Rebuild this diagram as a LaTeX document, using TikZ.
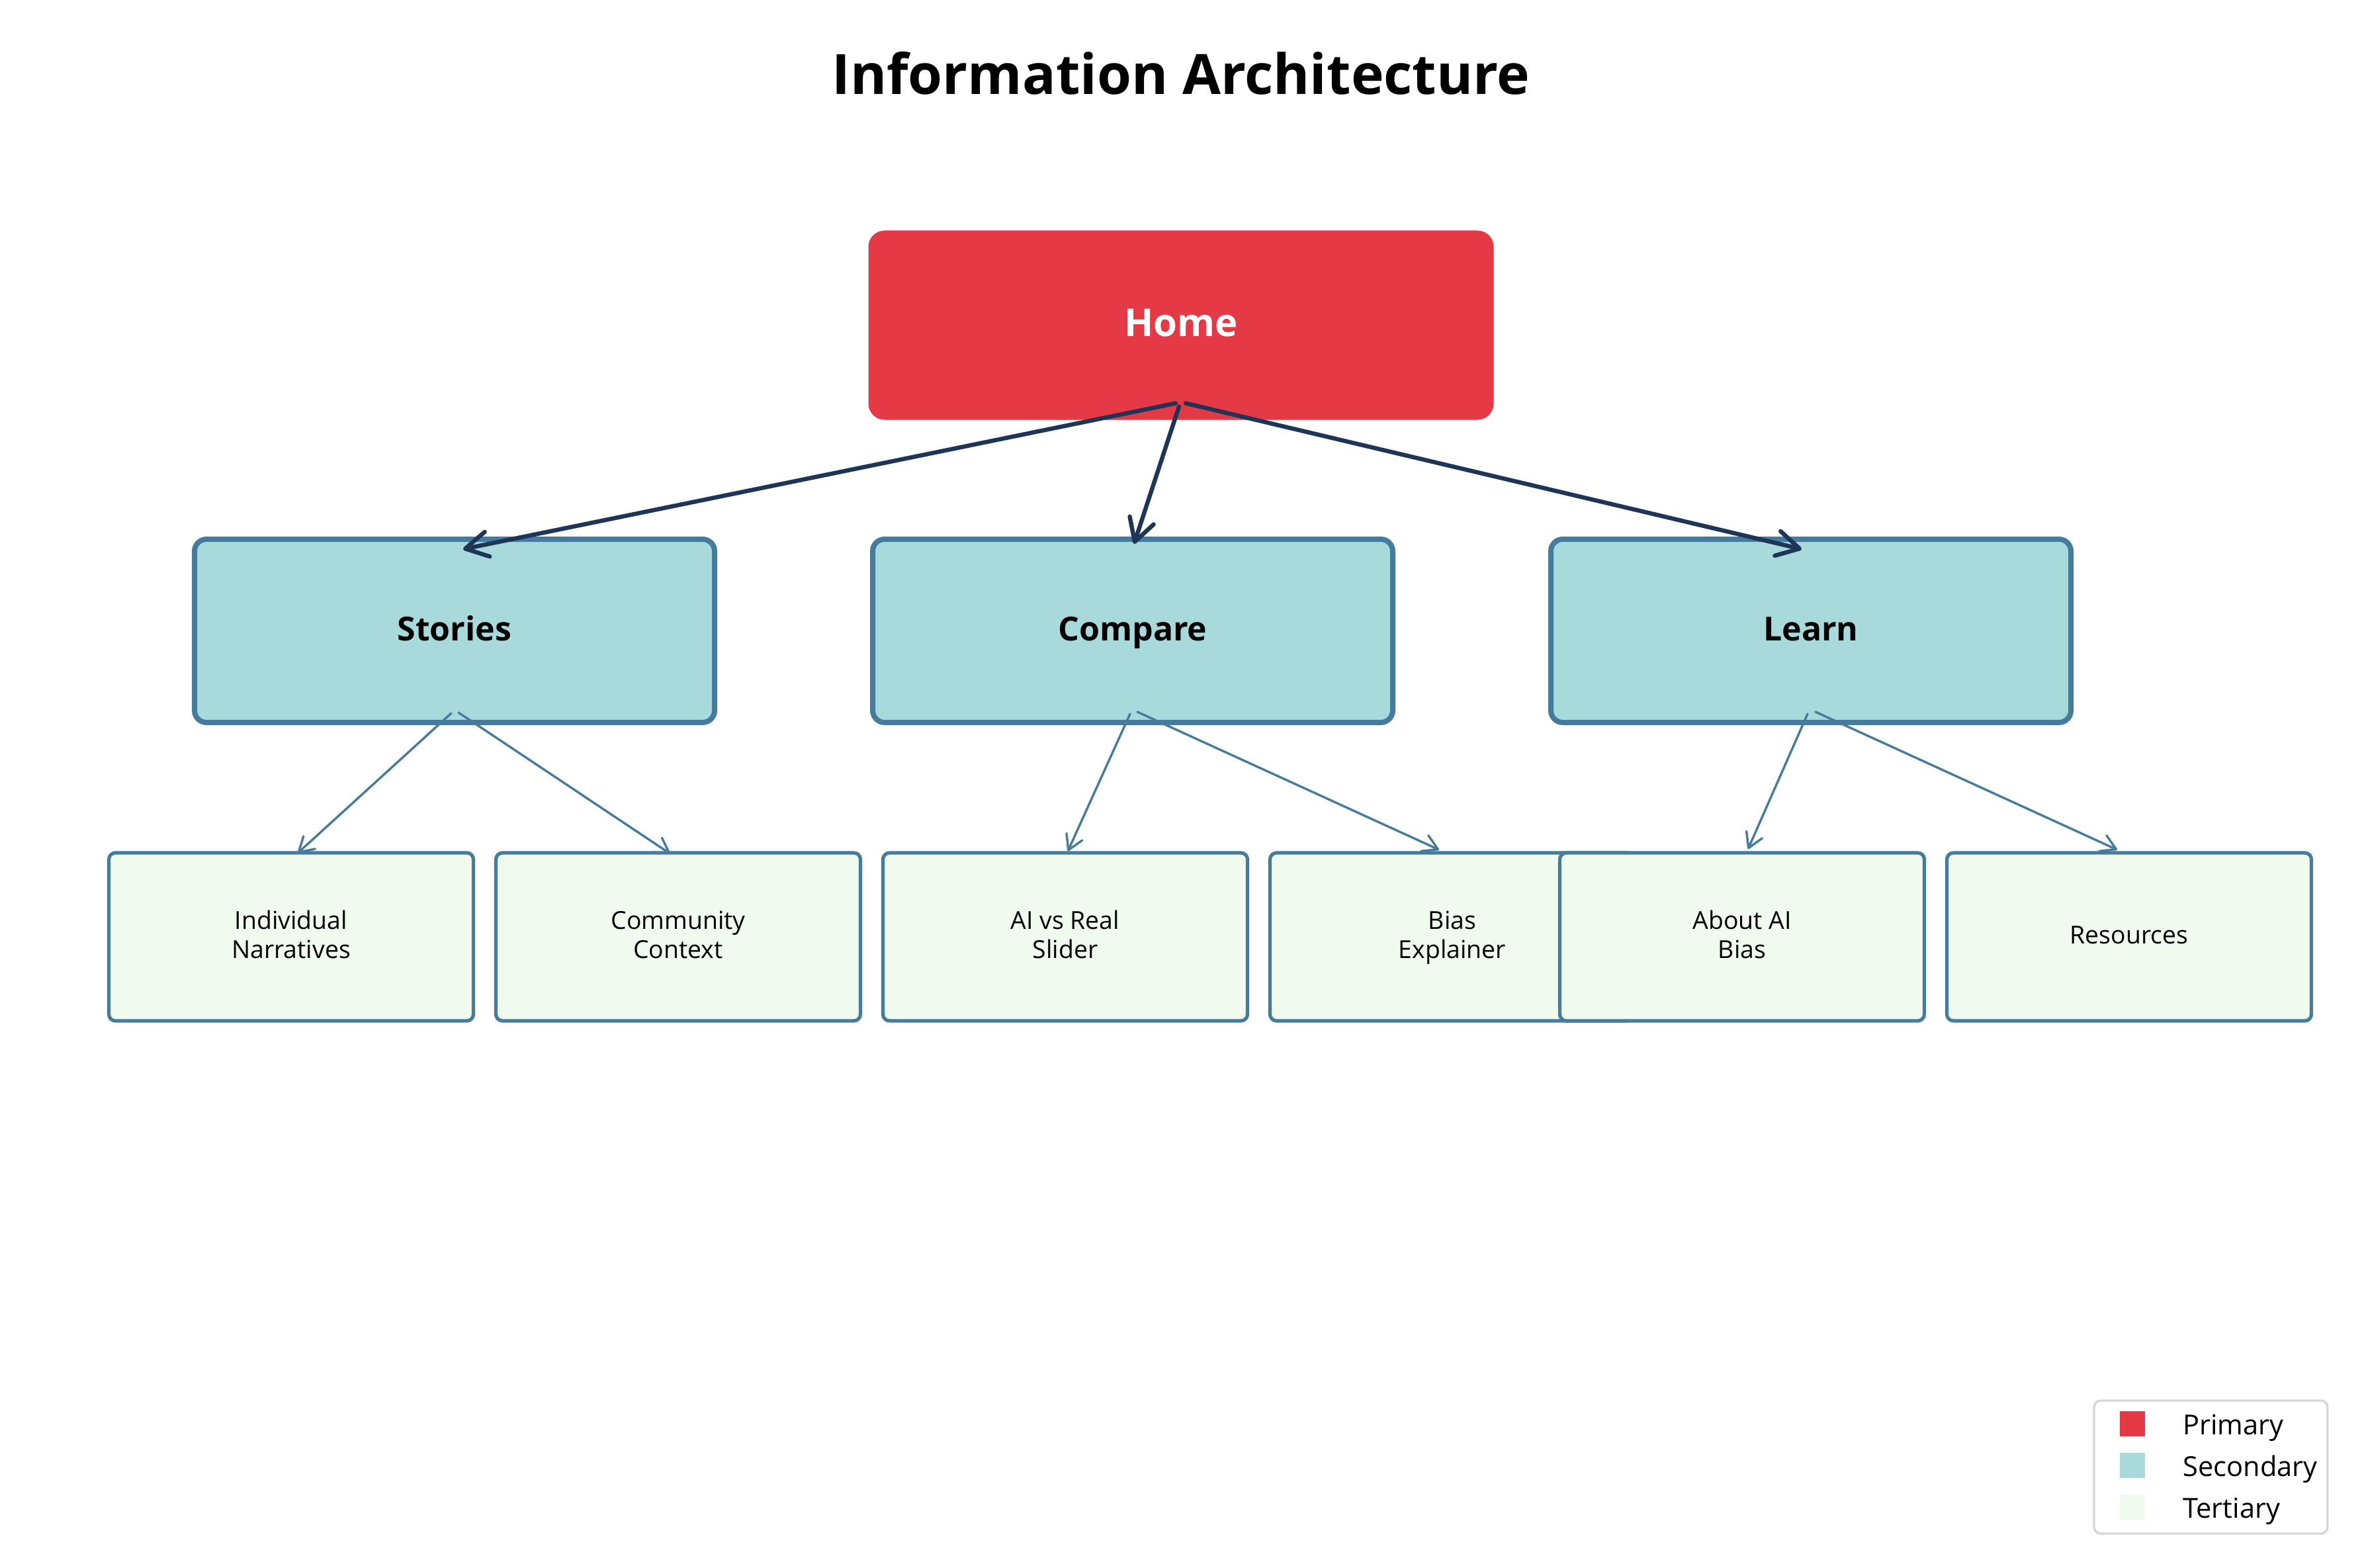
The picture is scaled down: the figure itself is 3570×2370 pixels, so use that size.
\documentclass[tikz,border=0pt]{standalone}
\usepackage{fontspec}
\setmainfont{Open Sans}
\usetikzlibrary{arrows.meta}
\definecolor{primaryred}{HTML}{E63946}
\definecolor{secfill}{HTML}{A8DADC}
\definecolor{tertfill}{HTML}{F1FAEE}
\definecolor{boxborder}{HTML}{457B9D}
\definecolor{darknavy}{HTML}{1D3557}
\definecolor{legendgray}{HTML}{D6D6D6}
\tikzset{
  primarybox/.style={rectangle, rounded corners=12pt, fill=primaryred, draw=primaryred, line width=0.5pt,
    minimum width=472pt, minimum height=142.5pt, text=white, font=\fontsize{29}{34}\selectfont\bfseries,
    inner sep=0pt, text height=20.7pt, text depth=3.5pt},
  secbox/.style={rectangle, rounded corners=9pt, fill=secfill, draw=boxborder, line width=4pt,
    minimum width=393pt, minimum height=138.5pt, font=\fontsize{25}{30}\selectfont\bfseries,
    inner sep=0pt, text height=17.85pt, text depth=3pt},
  tertbox/.style={rectangle, rounded corners=5pt, fill=tertfill, draw=boxborder, line width=2.6pt,
    minimum width=275.5pt, minimum height=127pt, font=\fontsize{18.7}{22}\selectfont, align=center, inner sep=0pt},
  terttext/.style={font=\fontsize{18.7}{22}\selectfont, align=center, inner sep=0pt},
  mainarrow/.style={draw=darknavy, line width=3.2pt, line cap=round,
    -{Straight Barb[length=17pt,width=19pt,line cap=round,line join=round]}},
  subarrow/.style={draw=boxborder, line width=1.7pt, line cap=round,
    -{Straight Barb[length=11pt,width=13pt,line cap=round,line join=round]}},
  legendsq/.style={rectangle, minimum size=19pt, inner sep=0pt},
  legendtext/.style={anchor=base west, font=\fontsize{20.8}{25}\selectfont, inner sep=0pt},
}
\begin{document}
\begin{tikzpicture}[x=0.5pt,y=-0.5pt]
\useasboundingbox (0,0) rectangle (3570,2370);
\fill[white] (0,0) rectangle (3570,2370);
% title
\node[anchor=base, font=\fontsize{42}{50}\selectfont\bfseries, inner sep=0pt] (title) at (1785,143) {Information Architecture};
% primary
\node[primarybox] (home) at (1785,491.5) {Home};
% secondary
\node[secbox] (stories) at (687,953.5) {Stories};
\node[secbox] (compare) at (1712,953.5) {Compare};
\node[secbox] (learn) at (2737,953.5) {Learn};
% tertiary
\node[tertbox] (indiv) at (440,1416) {};
\node[terttext] (indivt) at (440,1418) {\strut Individual\\\strut Narratives};
\node[tertbox] (commun) at (1025,1416) {};
\node[terttext] (communt) at (1025,1418) {\strut Community\\\strut Context};
\node[tertbox] (aivs) at (1610,1416) {};
\node[terttext] (aivst) at (1610,1418) {\strut AI vs Real\\\strut Slider};
\node[tertbox] (biasexp) at (2195,1416) {};
\node[terttext] (biasexpt) at (2195,1418) {\strut Bias\\\strut Explainer};
\node[tertbox] (aboutai) at (2633,1416) {};
\node[terttext] (aboutait) at (2633,1418) {\strut About AI\\\strut Bias};
\node[tertbox] (resources) at (3218,1416) {};
\node[terttext] (resourcest) at (3218,1418) {\strut Resources};
% main arrows
\draw[mainarrow] ([xshift=-4pt,yshift=12.5pt]home.south) -- ([xshift=6.5pt,yshift=-9.5pt]stories.north);
\draw[mainarrow] ([xshift=-1.5pt,yshift=10pt]home.south) -- ([xshift=1pt,yshift=-5.5pt]compare.north);
\draw[mainarrow] ([xshift=3.5pt,yshift=12.5pt]home.south) -- ([xshift=-7pt,yshift=-9.5pt]learn.north);
% sub arrows
\draw[subarrow] ([xshift=-2.5pt,yshift=9pt]stories.south) -- ([xshift=5pt,yshift=-1.5pt]indiv.north);
\draw[subarrow] ([xshift=3pt,yshift=9.5pt]stories.south) -- ([xshift=-6pt,yshift=-2pt]commun.north);
\draw[subarrow] ([xshift=-2pt,yshift=8.5pt]compare.south) -- ([xshift=2pt,yshift=0pt]aivs.north);
\draw[subarrow] ([xshift=3.5pt,yshift=10pt]compare.south) -- ([xshift=-10pt,yshift=1pt]biasexp.north);
\draw[subarrow] ([xshift=-2.5pt,yshift=8.5pt]learn.south) -- ([xshift=4.5pt,yshift=1.5pt]aboutai.north);
\draw[subarrow] ([xshift=3.5pt,yshift=10pt]learn.south) -- ([xshift=-9pt,yshift=1pt]resources.north);
% legend
\node[rectangle, rounded corners=5pt, draw=legendgray, line width=1.7pt, fill=white,
  minimum width=176.5pt, minimum height=100.5pt, inner sep=0pt] (legend) at (3341.5,2217.5) {};
\node[legendsq, fill=primaryred] (sqprim) at (3223,2152) {};
\node[legendsq, fill=secfill] (sqsec) at (3223,2215) {};
\node[legendsq, fill=tertfill] (sqtert) at (3223,2278) {};
\node[legendtext] (lprim) at (3299,2168) {Primary};
\node[legendtext] (lsec) at (3299,2231) {Secondary};
\node[legendtext] (ltert) at (3299,2294) {Tertiary};
\end{tikzpicture}
\end{document}
